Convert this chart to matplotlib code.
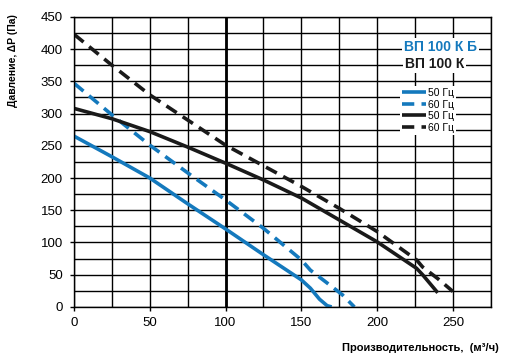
import numpy as np
import matplotlib
matplotlib.use("Agg")
import matplotlib.pyplot as plt
from matplotlib.ticker import MultipleLocator

plt.rcParams['font.family'] = ['Liberation Sans', 'DejaVu Sans']

# curves: flow (m3/h) vs pressure (Pa)
kb50_x = [0, 25, 50, 75, 100, 125, 150, 156, 162, 167, 170]
kb50_y = [265, 233, 200, 160, 121, 81, 42, 29, 12, 2, 0]
kb60_x = [0, 25, 50, 75, 100, 125, 150, 156, 166, 177, 185]
kb60_y = [347, 298, 251, 208, 166, 122, 73, 57, 39, 19, 0]
k50_x = [0, 25, 50, 75, 100, 125, 150, 175, 200, 226, 230, 235, 240]
k50_y = [308, 292, 272, 248, 223, 197, 169, 135, 101, 60, 50, 36, 22]
k60_x = [0, 25, 50, 75, 100, 125, 150, 175, 200, 226, 230, 240, 250]
k60_y = [423, 375, 329, 290, 251, 219, 187, 153, 117, 73, 62, 44, 24]

xticks = [0, 50, 100, 150, 200, 250]
yticks = [0, 50, 100, 150, 200, 250, 300, 350, 400, 450]

blue = '#1479bd'
black = '#1a1a1a'

fig = plt.figure(figsize=(5.07, 3.59), dpi=100)
ax = fig.add_axes([0.146, 0.145, 0.822, 0.808])

ax.set_xlim(0, 275)
ax.set_ylim(0, 450)
ax.set_xticks(xticks)
ax.set_yticks(yticks)
ax.xaxis.set_minor_locator(MultipleLocator(25))
ax.yaxis.set_minor_locator(MultipleLocator(25))
ax.grid(True, which='both', color='black', linewidth=1.0)
ax.tick_params(which='minor', length=0)
ax.tick_params(which='major', length=3, width=1, labelsize=9.5)
ax.tick_params(axis='y', pad=5)
ax.tick_params(axis='x', pad=4)
for s in ax.spines.values():
    s.set_linewidth(1.0)
ax.axvline(100, color='black', linewidth=2.0, zorder=2)
ax.set_axisbelow(True)

dash = (3.4, 2.0)
l1, = ax.plot(kb50_x, kb50_y, color=blue, lw=2.6, solid_capstyle='butt', label='50 Гц')
l2, = ax.plot(kb60_x, kb60_y, color=blue, lw=2.6, dashes=dash, label='60 Гц')
l3, = ax.plot(k50_x, k50_y, color=black, lw=2.6, solid_capstyle='butt', label='50 Гц')
l4, = ax.plot(k60_x, k60_y, color=black, lw=2.6, dashes=dash, label='60 Гц')

wb = dict(facecolor='white', edgecolor='none', pad=1.5)
ax.text(0.88, 0.895, 'ВП 100 К Б', transform=ax.transAxes, color=blue,
        fontsize=10, fontweight='bold', ha='center', va='center', bbox=wb)
ax.text(0.865, 0.838, 'ВП 100 К', transform=ax.transAxes, color=black,
        fontsize=10, fontweight='bold', ha='center', va='center', bbox=wb)

leg = ax.legend(handles=[l1, l2, l3, l4], loc='upper left',
                bbox_to_anchor=(0.77, 0.78), fontsize=7.5, frameon=True,
                facecolor='white', edgecolor='none', framealpha=1,
                handlelength=2.3, handletextpad=0.2, labelspacing=0.15,
                borderpad=0.2, fancybox=False)

ax.set_xlabel('Производительность,  (м³/ч)', fontsize=8, fontweight='bold',
              ha='right')
ax.xaxis.set_label_coords(1.02, -0.125)
ax.set_ylabel('Давление, ΔP (Па)', fontsize=7.5, fontweight='bold')
ax.yaxis.set_label_coords(-0.135, 0.85)

fig.savefig('out.png', dpi=100)
